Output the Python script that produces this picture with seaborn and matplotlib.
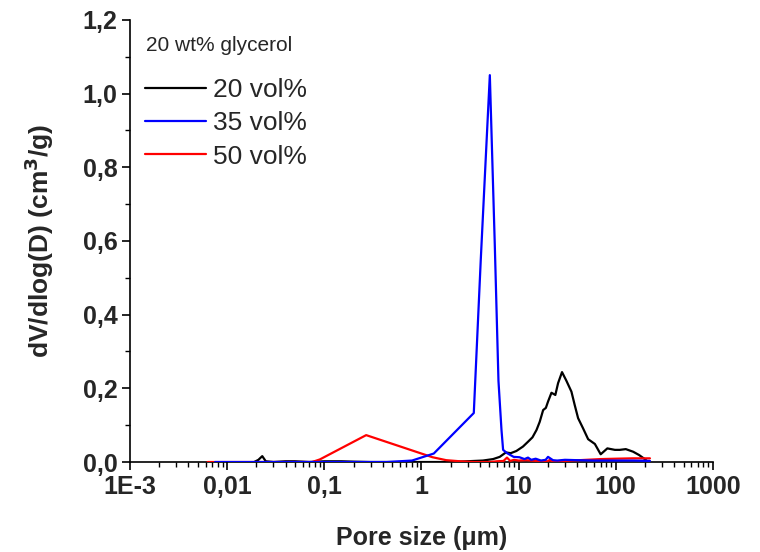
import numpy as np
import pandas as pd
import matplotlib
matplotlib.use('Agg')
from matplotlib import pyplot as plt
from matplotlib.ticker import LogLocator, FixedLocator, MultipleLocator
import seaborn as sns

sns.set_style('ticks')
plt.rcParams['font.family'] = ['Liberation Sans', 'DejaVu Sans']

##########################################################################
# pore size distributions (20 wt% glycerol)

labels = ['20 vol%', '35 vol%', '50 vol%']
colors = ['black', 'blue', 'red']

size_20 = [0.019, 0.021, 0.023, 0.025, 0.03, 0.04, 0.05, 0.07, 0.1, 0.15, 0.2, 0.3,
           0.5, 1.0, 2.0, 4.3, 5.47, 6.4, 7.4, 8.3, 9.5, 11.1, 12.5, 13.9, 15.3, 16.5,
           17.9, 19.1, 20.1, 21.8, 23.9, 25.5, 28.0, 31.0, 35.0, 37.8, 41.0, 46.0, 52.0,
           61.0, 70.0, 82.0, 98.0, 110.0, 127.0, 151.0, 174.0, 199.0, 215.0]
dv_20 = [0.0, 0.006, 0.016, 0.002, 0.0, 0.002, 0.002, 0.0, 0.002, 0.002, 0.001, 0.0,
         0.0, 0.0, 0.0, 0.004, 0.008, 0.014, 0.026, 0.024, 0.03, 0.042, 0.055, 0.067,
         0.087, 0.109, 0.141, 0.147, 0.164, 0.188, 0.182, 0.214, 0.244, 0.221, 0.191,
         0.155, 0.119, 0.092, 0.062, 0.049, 0.021, 0.037, 0.033, 0.033, 0.035, 0.028,
         0.019, 0.008, 0.0]

size_35 = [0.0075, 0.01, 0.02, 0.05, 0.1, 0.2, 0.44, 0.8, 1.34, 3.46, 4.08, 5.06,
           5.69, 6.21, 6.67, 6.93, 7.62, 8.9, 10.2, 11.5, 12.5, 13.5, 15.0, 17.0,
           19.0, 20.1, 22.6, 25.0, 30.0, 40.0, 60.0, 100.0, 150.0, 225.0]
dv_35 = [0.0, 0.0, 0.0, 0.0, 0.0, 0.0, 0.0, 0.004, 0.023, 0.133, 0.548, 1.05,
         0.59, 0.22, 0.087, 0.033, 0.024, 0.014, 0.013, 0.008, 0.012, 0.006, 0.009,
         0.004, 0.006, 0.014, 0.005, 0.004, 0.006, 0.005, 0.004, 0.004, 0.004, 0.003]

size_50 = [0.0063, 0.01, 0.02, 0.05, 0.075, 0.09, 0.27, 1.3, 1.8, 2.5, 3.5, 5.0,
           6.0, 7.0, 7.6, 8.2, 9.0, 10.0, 12.0, 15.0, 20.0, 21.0, 22.0, 30.0, 50.0,
           70.0, 100.0, 150.0, 225.0]
dv_50 = [0.0, 0.0, 0.0, 0.0, 0.0, 0.007, 0.073, 0.013, 0.005, 0.002, 0.0, 0.0,
         0.002, 0.003, 0.012, 0.003, 0.006, 0.004, 0.005, 0.003, 0.002, 0.006, 0.002,
         0.003, 0.006, 0.008, 0.009, 0.01, 0.01]

sizes = [size_20, size_35, size_50]
dvs = [dv_20, dv_35, dv_50]

x_ticks = [1e-3, 1e-2, 1e-1, 1, 10, 100, 1000]
x_ticklabels = ['1E-3', '0,01', '0,1', '1', '10', '100', '1000']
y_ticks = [0.0, 0.2, 0.4, 0.6, 0.8, 1.0, 1.2]
y_ticklabels = ['0,0', '0,2', '0,4', '0,6', '0,8', '1,0', '1,2']

##########################################################################

fig = plt.figure(figsize=(7.6, 5.52), dpi=100)
ax = fig.add_axes([0.171, 0.163, 0.767, 0.801])

zorders = [2, 4, 3]
for lab, col, xs, ys, z in zip(labels, colors, sizes, dvs, zorders):
    df = pd.DataFrame({'size': xs, 'dv': ys})
    sns.lineplot(data=df, x='size', y='dv', color=col, lw=1.6, sort=False,
                 estimator=None, label=lab, ax=ax, zorder=z)

ax.set_xscale('log')
ax.set_xlim([1e-3, 1000])
ax.set_ylim([0, 1.2])
ax.xaxis.set_major_locator(FixedLocator(x_ticks))
ax.xaxis.set_minor_locator(LogLocator(base=10, subs=np.arange(2, 10), numticks=20))
ax.set_xticklabels(x_ticklabels, fontsize=18, fontweight='bold')
ax.set_yticks(y_ticks)
ax.yaxis.set_minor_locator(MultipleLocator(0.1))
ax.set_yticklabels(y_ticklabels, fontsize=18, fontweight='bold')

ax.tick_params(which='major', direction='out', length=6, width=1.2, pad=3, color='black')
ax.tick_params(which='minor', direction='out', length=3.5, width=1.0, color='black')
for s in ['left', 'bottom']:
    ax.spines[s].set_linewidth(1.2)
    ax.spines[s].set_color('black')
sns.despine(ax=ax)

ax.set_xlabel('Pore size (\u03bcm)', fontsize=18, fontweight='bold', labelpad=20)
ax.set_ylabel('dV/dlog(D) (cm$^\\mathbf{3}$/g)', fontsize=19, fontweight='bold', labelpad=19)

ax.text(0.027, 0.942, '20 wt% glycerol', transform=ax.transAxes, fontsize=15,
        ha='left', va='center')
leg = ax.legend(loc='upper left', bbox_to_anchor=(0.026, 0.868),
                frameon=False, fontsize=19,
                handlelength=2.3, handletextpad=0.27, labelspacing=0.35,
                borderaxespad=0, borderpad=0)

plt.savefig('out.png', dpi=100)
